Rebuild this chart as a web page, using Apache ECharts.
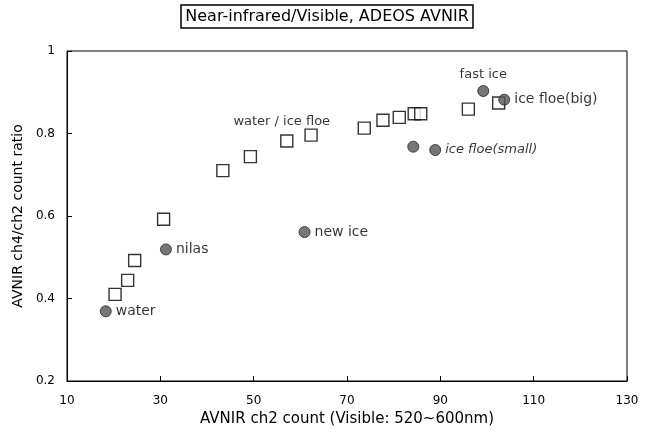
<!DOCTYPE html>
<html>
<head>
<meta charset="utf-8">
<script src="https://cdn.jsdelivr.net/npm/echarts@6/dist/echarts.min.js"></script>
<style>
html, body { margin: 0; padding: 0; background: #fff; }
#chart { width: 654px; height: 432px; }
</style>
</head>
<body>
<div id="chart"></div>
<script>
// 方形点（未标注）
var squareX = [20.3, 23.0, 24.5, 30.7, 43.4, 49.3, 57.1, 62.3, 73.7, 77.7, 81.2, 84.4, 85.8, 96.0, 102.5];
var squareY = [0.41, 0.444, 0.492, 0.592, 0.71, 0.744, 0.782, 0.796, 0.813, 0.832, 0.839, 0.848, 0.848, 0.859, 0.874];
var squareLabels = ['', '', '', '', '', '', 'water / ice floe', '', '', '', '', '', '', '', ''];

// 圆点（地物类型）
var circleX = [18.3, 31.2, 60.9, 84.2, 88.9, 99.2, 103.7];
var circleY = [0.369, 0.519, 0.561, 0.768, 0.76, 0.903, 0.882];
var circleNames = ['water', 'nilas', 'new ice', '', 'ice floe(small)', 'fast ice', 'ice floe(big)'];

var xTicks = [10, 30, 50, 70, 90, 110, 130];
var yTicks = [0.2, 0.4, 0.6, 0.8, 1];

var FONT = '"DejaVu Sans", "Liberation Sans", Arial, sans-serif';

var chart = echarts.init(document.getElementById('chart'));

function buildSquares() {
    var arr = [];
    for (var i = 0; i < squareX.length; i++) {
        var item = { value: [squareX[i], squareY[i]] };
        if (squareLabels[i]) {
            item.label = {
                show: true,
                formatter: squareLabels[i],
                position: [50, -13],
                align: 'right',
                verticalAlign: 'middle',
                color: '#000',
                fontSize: 13,
                fontFamily: FONT
            };
        }
        arr.push(item);
    }
    return arr;
}

function buildCircles() {
    var arr = [];
    for (var i = 0; i < circleX.length; i++) {
        var item = { value: [circleX[i], circleY[i]] };
        if (circleNames[i]) {
            var lab = {
                show: true,
                formatter: circleNames[i],
                position: 'right',
                distance: 4,
                color: '#000',
                fontSize: 14,
                fontFamily: FONT
            };
            if (circleNames[i] === 'fast ice') {
                lab.position = 'top';
                lab.distance = 4;
                lab.fontSize = 13;
            }
            if (circleNames[i] === 'ice floe(small)') {
                lab.fontStyle = 'italic';
                lab.fontSize = 13;
            }
            item.label = lab;
        }
        arr.push(item);
    }
    return arr;
}

var option = {
    backgroundColor: '#fff',
    animation: false,
    title: {
        text: 'Near-infrared/Visible, ADEOS AVNIR',
        left: 'center',
        top: 5,
        padding: [4, 5, 3, 5],
        borderColor: '#000',
        borderWidth: 1.5,
        textStyle: {
            fontSize: 16,
            fontWeight: 'normal',
            color: '#000',
            fontFamily: FONT
        }
    },
    grid: {
        left: 67,
        right: 27,
        top: 51,
        bottom: 51,
        show: true,
        borderColor: '#000',
        borderWidth: 1
    },
    xAxis: {
        type: 'value',
        min: 10,
        max: 130,
        interval: 20,
        name: 'AVNIR ch2 count (Visible: 520~600nm)',
        nameLocation: 'middle',
        nameGap: 28,
        nameTextStyle: { fontSize: 15, color: '#000', fontFamily: FONT },
        axisLine: { lineStyle: { color: '#000' } },
        axisTick: { inside: true, length: 5, lineStyle: { color: '#000' } },
        axisLabel: {
            fontSize: 12, color: '#000', fontFamily: FONT, margin: 14,
            formatter: function (v) { return xTicks.indexOf(v) >= 0 ? String(v) : ''; }
        },
        splitLine: { show: false }
    },
    yAxis: {
        type: 'value',
        min: 0.2,
        max: 1,
        interval: 0.2,
        name: 'AVNIR ch4/ch2 count ratio',
        nameLocation: 'middle',
        nameGap: 38,
        nameTextStyle: { fontSize: 14, color: '#000', fontFamily: FONT },
        axisLine: { lineStyle: { color: '#000' } },
        axisTick: { inside: true, length: 5, lineStyle: { color: '#000' } },
        axisLabel: {
            fontSize: 12, color: '#000', fontFamily: FONT, margin: 12,
            formatter: function (v) {
                var r = Math.round(v * 10) / 10;
                for (var i = 0; i < yTicks.length; i++) {
                    if (Math.abs(yTicks[i] - r) < 1e-6) return String(yTicks[i]);
                }
                return '';
            }
        },
        splitLine: { show: false }
    },
    series: [
        {
            name: 'squares',
            type: 'scatter',
            symbol: 'rect',
            symbolSize: 12,
            itemStyle: { color: '#fff', borderColor: '#000', borderWidth: 1.4 },
            data: buildSquares(),
            z: 2
        },
        {
            name: 'circles',
            type: 'scatter',
            symbol: 'circle',
            symbolSize: 11,
            itemStyle: { color: '#555', borderColor: '#222', borderWidth: 1 },
            data: buildCircles(),
            z: 3
        }
    ]
};

chart.setOption(option);
</script>
</body>
</html>
